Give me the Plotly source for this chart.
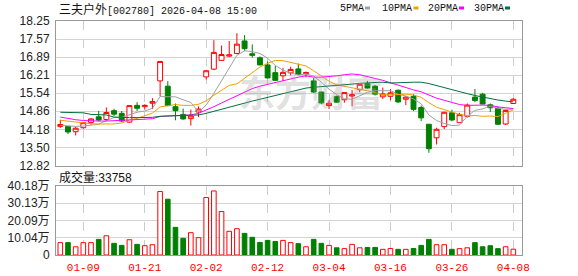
import plotly.graph_objects as go

# ---------------- data ----------------
dates = ["01-06", "01-07", "01-08", "01-09", "01-12", "01-13", "01-14", "01-15", "01-16", "01-19",
         "01-20", "01-21", "01-22", "01-23", "01-26", "01-27", "01-28", "01-29", "01-30", "02-02",
         "02-03", "02-04", "02-05", "02-06", "02-09", "02-10", "02-11", "02-12", "02-13", "02-24",
         "02-25", "02-26", "02-27", "03-02", "03-03", "03-04", "03-05", "03-06", "03-09", "03-10",
         "03-11", "03-12", "03-13", "03-16", "03-17", "03-18", "03-19", "03-20", "03-23", "03-24",
         "03-25", "03-26", "03-27", "03-30", "03-31", "04-01", "04-02", "04-03", "04-07", "04-08"]

opens = [14.29, 14.29, 14.09, 14.24, 14.44, 14.65, 14.55, 14.88, 14.78, 14.45,
         15.08, 15.03, 15.16, 16.00, 15.80, 15.03, 14.74, 14.58, 14.83, 16.15,
         16.44, 16.77, 16.93, 17.03, 17.50, 17.02, 16.87, 16.60, 16.31, 16.19,
         16.30, 16.45, 16.27, 16.00, 15.58, 15.07, 15.41, 15.29, 15.43, 15.67,
         15.90, 15.80, 15.40, 15.42, 15.65, 15.31, 15.42, 15.00, 14.37, 13.86,
         14.28, 14.80, 14.43, 14.67, 15.39, 15.50, 15.10, 14.97, 14.38, 15.15]
highs = [14.54, 14.30, 14.27, 14.45, 14.60, 14.87, 15.00, 14.95, 14.87, 15.08,
         15.20, 15.12, 15.35, 16.75, 15.99, 15.15, 14.96, 14.92, 15.04, 16.40,
         17.53, 17.33, 17.50, 17.79, 17.72, 17.37, 16.92, 16.73, 16.56, 16.49,
         16.53, 16.65, 16.35, 16.11, 15.60, 15.27, 15.45, 15.57, 15.65, 15.89,
         16.00, 15.85, 15.75, 15.69, 15.67, 15.43, 15.50, 15.07, 14.38, 14.24,
         14.84, 14.92, 14.80, 15.15, 15.69, 15.55, 15.15, 15.04, 14.92, 15.35]
lows = [14.23, 14.00, 13.95, 14.20, 14.35, 14.48, 14.49, 14.68, 14.45, 14.42,
        14.87, 14.92, 14.94, 15.42, 15.05, 14.52, 14.54, 14.32, 14.64, 16.05,
        16.40, 16.75, 16.90, 17.00, 17.12, 16.87, 16.58, 16.10, 16.00, 15.99,
        16.21, 16.22, 16.13, 15.55, 15.12, 14.94, 15.18, 15.18, 15.05, 15.57,
        15.70, 15.45, 15.32, 15.27, 15.17, 15.09, 14.87, 14.49, 13.30, 13.61,
        14.19, 14.48, 14.42, 14.62, 15.20, 15.12, 14.83, 14.34, 14.34, 15.14]
closes = [14.36, 14.08, 14.22, 14.43, 14.57, 14.53, 14.81, 14.75, 14.49, 15.07,
          14.97, 15.08, 15.22, 16.73, 15.07, 14.88, 14.57, 14.68, 14.94, 16.38,
          17.07, 16.99, 16.98, 17.38, 17.21, 16.96, 16.60, 16.11, 16.02, 16.32,
          16.43, 16.24, 16.31, 15.58, 15.17, 15.16, 15.20, 15.56, 15.48, 15.87,
          15.73, 15.50, 15.51, 15.55, 15.21, 15.39, 14.93, 14.61, 13.45, 14.18,
          14.82, 14.53, 14.73, 15.09, 15.26, 15.13, 14.99, 14.37, 14.89, 15.31]

ma5 = [14.33, 14.31, 14.29, 14.30, 14.33, 14.37, 14.51, 14.62, 14.63, 14.73,
       14.82, 14.87, 14.97, 15.41, 15.41, 15.40, 15.29, 15.19, 14.83, 15.09,
       15.53, 16.01, 16.47, 16.96, 17.13, 17.10, 17.03, 16.85, 16.58, 16.40,
       16.30, 16.22, 16.26, 16.18, 15.95, 15.69, 15.48, 15.33, 15.31, 15.45,
       15.57, 15.63, 15.62, 15.63, 15.50, 15.43, 15.32, 15.14, 14.72, 14.51,
       14.40, 14.32, 14.34, 14.67, 14.89, 14.95, 15.04, 14.97, 14.93, 14.94]
ma10 = [14.52, 14.49, 14.45, 14.41, 14.39, 14.38, 14.37, 14.38, 14.42, 14.53,
        14.59, 14.69, 14.79, 15.02, 15.07, 15.11, 15.08, 15.08, 15.12, 15.25,
        15.46, 15.65, 15.83, 15.89, 16.11, 16.32, 16.52, 16.66, 16.77, 16.76,
        16.70, 16.63, 16.56, 16.38, 16.17, 15.99, 15.85, 15.80, 15.75, 15.70,
        15.63, 15.56, 15.48, 15.47, 15.48, 15.50, 15.47, 15.38, 15.18, 15.01,
        14.92, 14.82, 14.74, 14.69, 14.70, 14.67, 14.68, 14.66, 14.80, 14.91]
ma20 = [14.64, 14.58, 14.54, 14.51, 14.49, 14.49, 14.49, 14.50, 14.51, 14.52,
        14.54, 14.56, 14.58, 14.66, 14.68, 14.69, 14.70, 14.72, 14.78, 14.89,
        15.03, 15.17, 15.31, 15.46, 15.59, 15.71, 15.80, 15.87, 15.95, 16.01,
        16.08, 16.14, 16.19, 16.14, 16.14, 16.16, 16.19, 16.23, 16.26, 16.23,
        16.17, 16.09, 16.02, 15.93, 15.83, 15.75, 15.66, 15.59, 15.46, 15.35,
        15.27, 15.19, 15.11, 15.08, 15.09, 15.09, 15.08, 15.02, 14.99, 14.96]
ma30 = [14.82, 14.82, 14.82, 14.80, 14.74, 14.73, 14.72, 14.64, 14.62, 14.62,
        14.62, 14.62, 14.63, 14.67, 14.68, 14.68, 14.68, 14.69, 14.72, 14.78,
        14.86, 14.94, 15.02, 15.10, 15.17, 15.24, 15.31, 15.38, 15.45, 15.52,
        15.58, 15.66, 15.73, 15.76, 15.78, 15.81, 15.82, 15.85, 15.88, 15.91,
        15.93, 15.94, 15.95, 15.92, 15.92, 15.94, 15.95, 15.95, 15.90, 15.82,
        15.75, 15.67, 15.59, 15.52, 15.45, 15.39, 15.34, 15.28, 15.24, 15.21]

volumes = [72000, 72000, 48000, 72000, 72000, 91000, 112000, 68000, 56000, 89000,
           62000, 54000, 60000, 370000, 325000, 161000, 97000, 130000, 101000, 335000,
           373000, 253000, 138000, 153000, 126000, 103000, 73000, 85000, 79000, 85000,
           72000, 66000, 48000, 91000, 68000, 56000, 42000, 37000, 62000, 42000,
           44000, 44000, 33000, 38000, 33000, 33000, 38000, 56000, 91000, 60000,
           60000, 33000, 37000, 42000, 72000, 48000, 54000, 37000, 48000, 33758]

price_tickvals = [12.82, 13.50, 14.18, 14.86, 15.54, 16.21, 16.89, 17.57, 18.25]
price_ticktext = ["12.82", "13.50", "14.18", "14.86", "15.54", "16.21", "16.89", "17.57", "18.25"]
vol_tickvals = [0, 100450, 200900, 301350, 401800]
vol_ticktext = ["0", "10.04万", "20.09万", "30.13万", "40.18万"]
x_tick_dates = ["01-09", "01-21", "02-02", "02-12", "03-04", "03-16", "03-26", "04-08"]

ma_names = ["5PMA", "10PMA", "20PMA", "30PMA"]
ma_colors = ["#a0a0a0", "#f0a000", "#ff00ff", "#00703c"]
stock_name = "三夫户外"
stock_code = "[002780] 2026-04-08 15:00"
vol_label = "成交量"
last_volume = 33758
watermark = "东方财富"

# ---------------- styling ----------------
W, H = 578, 276
ML, MR, MT, MB = 56, 56, 21, 21
PW, PH = W - ML - MR, H - MT - MB
RED = "#ff0000"
GREEN = "#008000"


def px_x(x):
    return (x - ML) / PW


def px_y(y):
    return (H - MB - y) / PH


main_dom = [px_y(165.5), 1.0]
vol_dom = [0.0, px_y(186)]

fig = go.Figure()

fig.add_trace(go.Candlestick(
    x=dates, open=opens, high=highs, low=lows, close=closes,
    increasing=dict(line=dict(color=RED, width=1), fillcolor="#ffffff"),
    decreasing=dict(line=dict(color=GREEN, width=1), fillcolor=GREEN),
    whiskerwidth=0, xaxis="x", yaxis="y", showlegend=False, hoverinfo="skip"))

for name, vals, col in zip(ma_names, [ma5, ma10, ma20, ma30], ma_colors):
    fig.add_trace(go.Scatter(x=dates, y=vals, mode="lines", name=name,
                             line=dict(color=col, width=1), xaxis="x", yaxis="y",
                             showlegend=False, hoverinfo="skip"))

up = [c >= o for o, c in zip(opens, closes)]
fig.add_trace(go.Bar(
    x=dates, y=volumes, width=0.6, xaxis="x2", yaxis="y2",
    marker=dict(color=["#ffffff" if u else GREEN for u in up],
                line=dict(color=[RED if u else GREEN for u in up], width=1)),
    showlegend=False, hoverinfo="skip"))

axis_common = dict(showline=True, linecolor="#999999", linewidth=1, mirror=True,
                   zeroline=False, ticks="", automargin=False)
xr = [-0.56, 60.13]
fig.update_layout(
    width=W, height=H, margin=dict(l=ML, r=MR, t=MT, b=MB, autoexpand=False),
    paper_bgcolor="white", plot_bgcolor="white", showlegend=False,
    boxgap=0.2, boxgroupgap=0.2,
    xaxis=dict(type="category", domain=[0, 1], anchor="y", range=xr,
               tickvals=x_tick_dates, showticklabels=False,
               showgrid=True, gridcolor="#cccccc", griddash="dash", gridwidth=1,
               rangeslider=dict(visible=False), **axis_common),
    yaxis=dict(domain=main_dom, range=[12.82, 18.25], tickvals=price_tickvals,
               ticktext=price_ticktext, showgrid=True, gridcolor="#d4d4d4",
               tickfont=dict(family="Liberation Sans, Arial", size=12, color="#222222"),
               ticklabelstandoff=3, **axis_common),
    xaxis2=dict(type="category", domain=[0, 1], anchor="y2", range=xr, matches="x",
                tickvals=x_tick_dates, showticklabels=True,
                tickfont=dict(family="Liberation Mono, DejaVu Sans Mono", size=11, color=RED),
                showgrid=True, gridcolor="#cccccc", griddash="dash", gridwidth=1,
                ticklabelstandoff=2, **axis_common),
    yaxis2=dict(domain=vol_dom, range=[0, 401800], tickvals=vol_tickvals,
                ticktext=vol_ticktext, showgrid=True, gridcolor="#d4d4d4",
                tickfont=dict(family="Liberation Sans, Noto Sans CJK SC", size=12, color="#222222"),
                ticklabelstandoff=3, **axis_common),
)

annotations = [
    dict(x=px_x(56.5), y=px_y(9), xref="paper", yref="paper", xanchor="left", yanchor="middle",
         showarrow=False,
         text=f"<span style='font-family:Noto Sans CJK SC;font-size:12px'>{stock_name}</span>{stock_code}",
         font=dict(family="Liberation Mono, DejaVu Sans Mono", size=10, color="#111111")),
    dict(x=px_x(56.5), y=px_y(177), xref="paper", yref="paper", xanchor="left", yanchor="middle",
         showarrow=False, text=f"{vol_label}:{last_volume}",
         font=dict(family="Liberation Sans, Noto Sans CJK SC", size=12, color="#111111")),
    dict(x=px_x(311), y=px_y(91), xref="paper", yref="paper", xanchor="center", yanchor="middle",
         showarrow=False, text=f"<b>{watermark}</b>",
         font=dict(family="Noto Sans CJK SC", size=36, color="rgba(160,160,160,0.32)")),
]
shapes = []
leg_text_x = [338, 380, 426, 472]
leg_sq_x = [365, 413.5, 459, 505]
for name, col, tx, sx in zip(ma_names, ma_colors, leg_text_x, leg_sq_x):
    annotations.append(dict(x=px_x(tx), y=px_y(9), xref="paper", yref="paper",
                            xanchor="left", yanchor="middle", showarrow=False, text=name,
                            font=dict(family="Liberation Mono, DejaVu Sans Mono", size=10,
                                      color="#111111")))
    shapes.append(dict(type="rect", xref="paper", yref="paper",
                       x0=px_x(sx), x1=px_x(sx + 5), y0=px_y(9.5), y1=px_y(6.5),
                       fillcolor=col, line=dict(width=0)))
fig.update_layout(annotations=annotations, shapes=shapes)

fig.write_html("out.html")
